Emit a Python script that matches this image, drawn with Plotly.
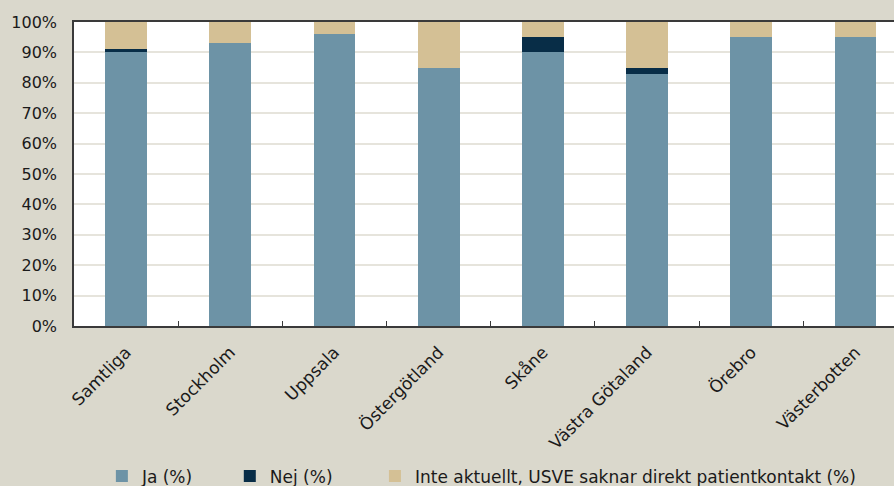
import plotly.graph_objects as go

# Regions (categories) and share of answers per region, in percent
regions = ["Samtliga", "Stockholm", "Uppsala", "Östergötland", "Skåne",
           "Västra Götaland", "Örebro", "Västerbotten"]
ja = [90, 93, 96, 85, 90, 83, 95, 95]
nej = [1, 0, 0, 0, 5, 2, 0, 0]
inte_aktuellt = [9, 7, 4, 15, 5, 15, 5, 5]

series_names = ["Ja (%)", "Nej (%)", "Inte aktuellt, USVE saknar direkt patientkontakt (%)"]
series_colors = ["#6d93a6", "#082d47", "#d4c095"]
y_ticks = list(range(0, 101, 10))

FONT = "DejaVu Sans"
BG = "#dad8cc"
TXT = "#1a1a1a"

# one legend box per series so each entry can sit at its own spot
legend_ids = ["legend", "legend2", "legend3"]
legend_x = [0.034, 0.19, 0.367]

fig = go.Figure()
for name, vals, col, lid in zip(series_names, [ja, nej, inte_aktuellt], series_colors, legend_ids):
    fig.add_trace(go.Bar(
        x=regions, y=vals, name=name,
        marker=dict(color=col, line=dict(width=0)),
        width=0.4,
        legend=lid,
    ))

legend_common = dict(
    orientation="h",
    yanchor="middle", y=-0.495,
    xanchor="left",
    font=dict(family=FONT, size=17, color=TXT),
    bgcolor="rgba(0,0,0,0)",
    itemwidth=30,
)

fig.update_layout(
    barmode="stack",
    width=894, height=486,
    paper_bgcolor=BG,
    plot_bgcolor="white",
    margin=dict(l=74, r=0, t=22, b=160, autoexpand=False),
    font=dict(family=FONT, size=16, color=TXT),
    showlegend=True,
    legend=dict(x=legend_x[0], **legend_common),
    legend2=dict(x=legend_x[1], **legend_common),
    legend3=dict(x=legend_x[2], **legend_common),
)

fig.update_xaxes(
    range=[-0.5, 7.37],
    tickangle=-45,
    automargin=False,
    showline=True, linecolor="#3a3a3a", linewidth=1.5,
    mirror=True,
    ticks="inside", tickson="boundaries", ticklen=5,
    tickcolor="#3a3a3a", tickwidth=1,
    showgrid=False,
    ticklabelstandoff=8,
    tickfont=dict(family=FONT, size=17, color=TXT),
)
fig.update_yaxes(
    range=[0, 100],
    automargin=False,
    tickvals=y_ticks,
    ticktext=[f"{v}%" for v in y_ticks],
    showline=True, linecolor="#3a3a3a", linewidth=1.5,
    ticks="", ticklabelstandoff=12,
    showgrid=True, gridcolor="#e6e4dc", gridwidth=1.5,
    zeroline=False,
    tickfont=dict(family=FONT, size=16, color=TXT),
)

fig.write_html("out.html")
